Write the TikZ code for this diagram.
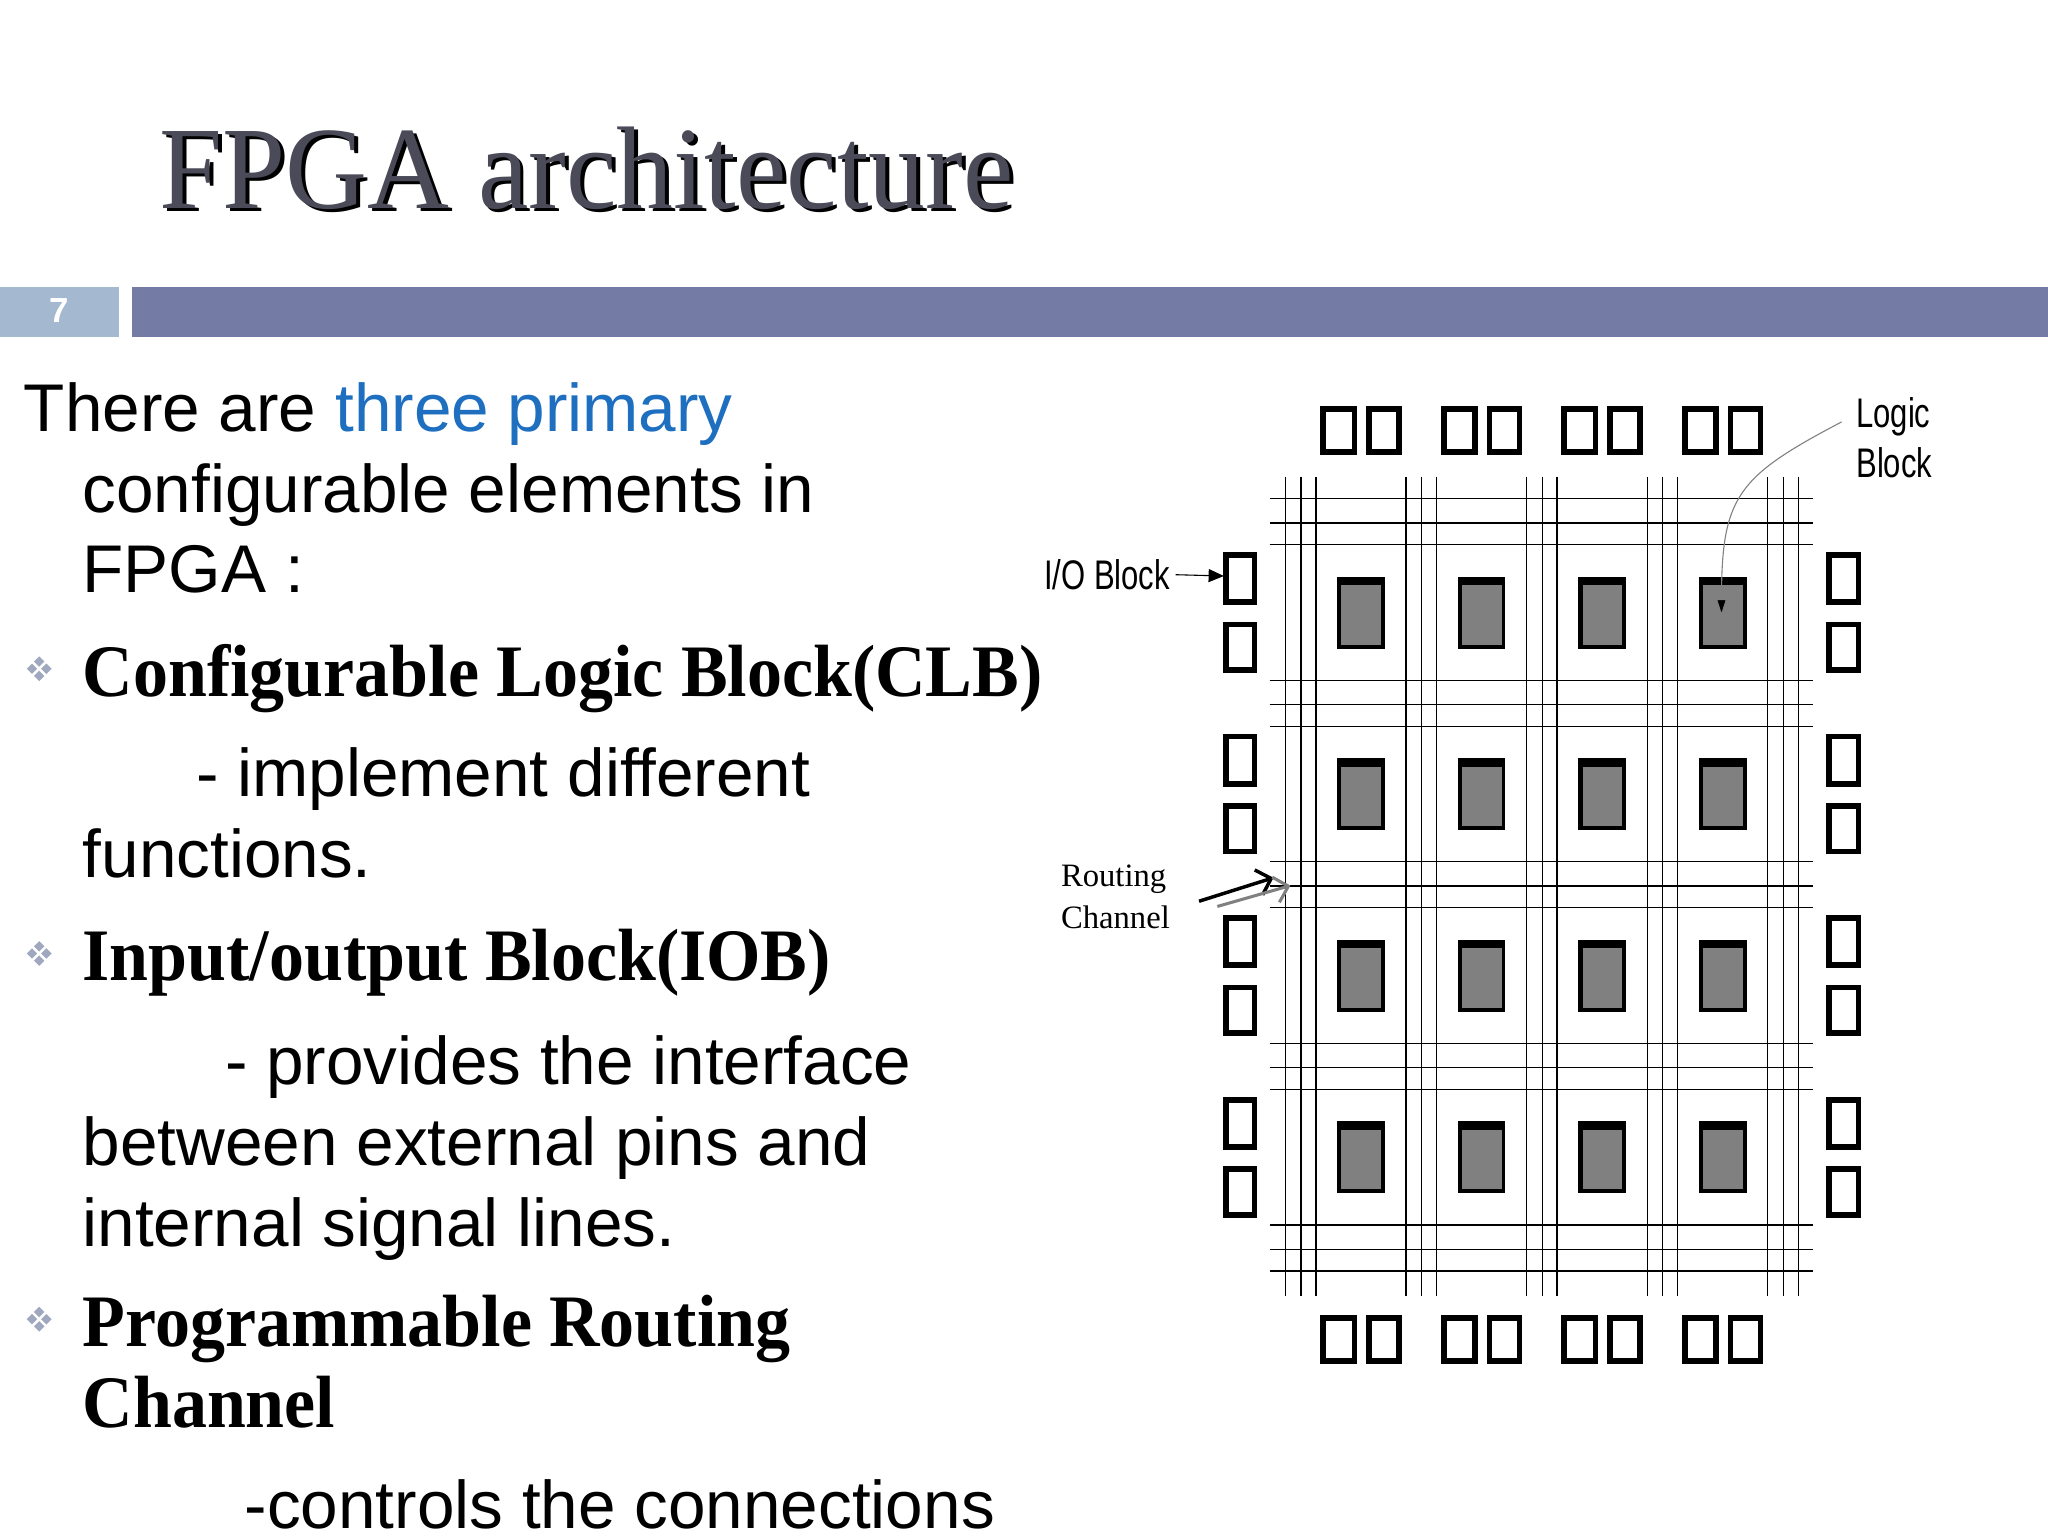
\documentclass[tikz,border=0pt]{standalone}
\usepackage{fontspec}
\setmainfont{Liberation Serif}
\newfontfamily\sans{Liberation Sans}
\usetikzlibrary{arrows.meta}
\definecolor{barlight}{HTML}{A4B8CF}
\definecolor{bardark}{HTML}{747CA6}
\definecolor{titlec}{HTML}{4A4A58}
\definecolor{blueword}{HTML}{1F6FC0}
\definecolor{clbgray}{HTML}{808080}
\definecolor{bulc}{HTML}{A0A8C0}
\tikzset{
 body/.style={anchor=base west,inner sep=0,font=\sans\fontsize{31}{37}\selectfont},
 head/.style={anchor=base west,inner sep=0,font=\bfseries\fontsize{34}{40}\selectfont,xscale=0.945},
 pad/.style={draw=black,line width=2.6pt,fill=white},
 wire/.style={line width=0.6pt,black},
 lbl/.style={inner sep=0,font=\sans\fontsize{19}{23}\selectfont,xscale=0.75},
}
\newcommand{\bul}[2]{\foreach \dx/\dy in {0/-5.5,0/5.5,-5.5/0,5.5/0}{\fill[bulc] (#1+\dx-4,#2+\dy) -- ++(4,-4) -- ++(4,4) -- ++(-4,4) -- cycle;}}
\begin{document}
\begin{tikzpicture}[x=0.6pt,y=-0.6pt]
\useasboundingbox (0,0) rectangle (1568,1176);
\fill[white] (0,0) rectangle (1568,1176);
% title
\node[anchor=base west,inner sep=0,font=\fontsize{54}{60}\selectfont,text=black,xscale=0.965] at (125,162) {FPGA architecture};
\node[anchor=base west,inner sep=0,font=\fontsize{54}{60}\selectfont,text=titlec,xscale=0.965] (title) at (122,160) {FPGA architecture};
% bar
\fill[barlight] (0,220) rectangle (91,258);
\fill[bardark] (101,220) rectangle (1568,258);
\node[text=white,font=\sans\bfseries\fontsize{16}{18}\selectfont] (num) at (45,238) {7};
% body text
\node[body] (t1) at (18,330) {There are \textcolor{blueword}{three primary}};
\node[body] (t2) at (63,392) {configurable elements in};
\node[body] (t3) at (63,454) {FPGA :};
\bul{30}{512}
\node[head] (h1) at (63,533) {Configurable Logic Block(CLB)};
\node[body] (t4) at (150,610) {- implement different};
\node[body] (t5) at (63,672) {functions.};
\bul{30}{730}
\node[head] (h2) at (63,751) {Input/output Block(IOB)};
\node[body] (t6) at (172,830) {- provides the interface};
\node[body] (t7) at (63,892) {between external pins and};
\node[body] (t8) at (63,954) {internal signal lines.};
\bul{30}{1010}
\node[head] (h3) at (63,1031) {Programmable Routing};
\node[head] (h4) at (63,1093) {Channel};
\node[body] (t9) at (187,1170) {-controls the connections};
% routing wires
\foreach \i in {0,...,4}{
 \foreach \o in {0,11.9,23.3}{
  \draw[wire] (984.2+92.3*\i+\o,365) -- (984.2+92.3*\i+\o,992);
 }}
\foreach \j in {0,...,4}{
 \foreach \o in {0,18.6,35.2}{
  \draw[wire] (972,381.8+139*\j+\o) -- (1388,381.8+139*\j+\o);
 }}
% CLBs
\foreach \i in {0,...,3}{
 \foreach \j in {0,...,3}{
  \fill[black] (1023.8+92.3*\i,441.4+139*\j) rectangle (1060.3+92.3*\i,496.6+139*\j);
  \fill[clbgray] (1027+92.3*\i,448+139*\j) rectangle (1057.3+92.3*\i,493.5+139*\j);
 }}
% IO pads top/bottom
\foreach \i in {0,...,3}{
 \draw[pad] (1013+92.3*\i,313) rectangle (1037+92.3*\i,346);
 \draw[pad] (1048+92.3*\i,313) rectangle (1071+92.3*\i,346);
 \draw[pad] (1013+92.3*\i,1009) rectangle (1037+92.3*\i,1042);
 \draw[pad] (1048+92.3*\i,1009) rectangle (1071+92.3*\i,1042);
}
% IO pads left/right
\foreach \j in {0,...,3}{
 \draw[pad] (938.5,425+139*\j) rectangle (960.5,461+139*\j);
 \draw[pad] (938.5,478+139*\j) rectangle (960.5,513+139*\j);
 \draw[pad] (1400.5,425+139*\j) rectangle (1423,461+139*\j);
 \draw[pad] (1400.5,478+139*\j) rectangle (1423,513+139*\j);
}
% labels
\node[lbl,anchor=east] (iob) at (896,440) {I/O Block};
\coordinate (iobt) at (937,441);
\draw[line width=0.5pt,-{Triangle[length=7pt,width=6pt]}] (iob.east) ++(4,0) -- (iobt);
\node[lbl,anchor=north west,align=left,font=\sans\fontsize{19}{23}\selectfont] (lb) at (1421,304) {Logic\\Block};
\coordinate (lbt) at (1318,472);
\draw[gray,line width=0.5pt,-{Triangle[length=8pt,width=5pt,fill=black]}] (1410,323) .. controls (1330,365) and (1318,380) .. (lbt);
\node[anchor=north west,inner sep=0,align=left,font=\fontsize{15}{19}\selectfont] (rc) at (812,662) {Routing\\Channel};
\coordinate (rct) at (975,672);
\coordinate (rct2) at (988,678);
\draw[line width=1.6pt,-{Straight Barb[length=6pt]}] (918,690) -- (rct);
\draw[gray,line width=1.4pt,-{Straight Barb[length=6pt]}] (932,694) -- (rct2);
\end{tikzpicture}
\end{document}
